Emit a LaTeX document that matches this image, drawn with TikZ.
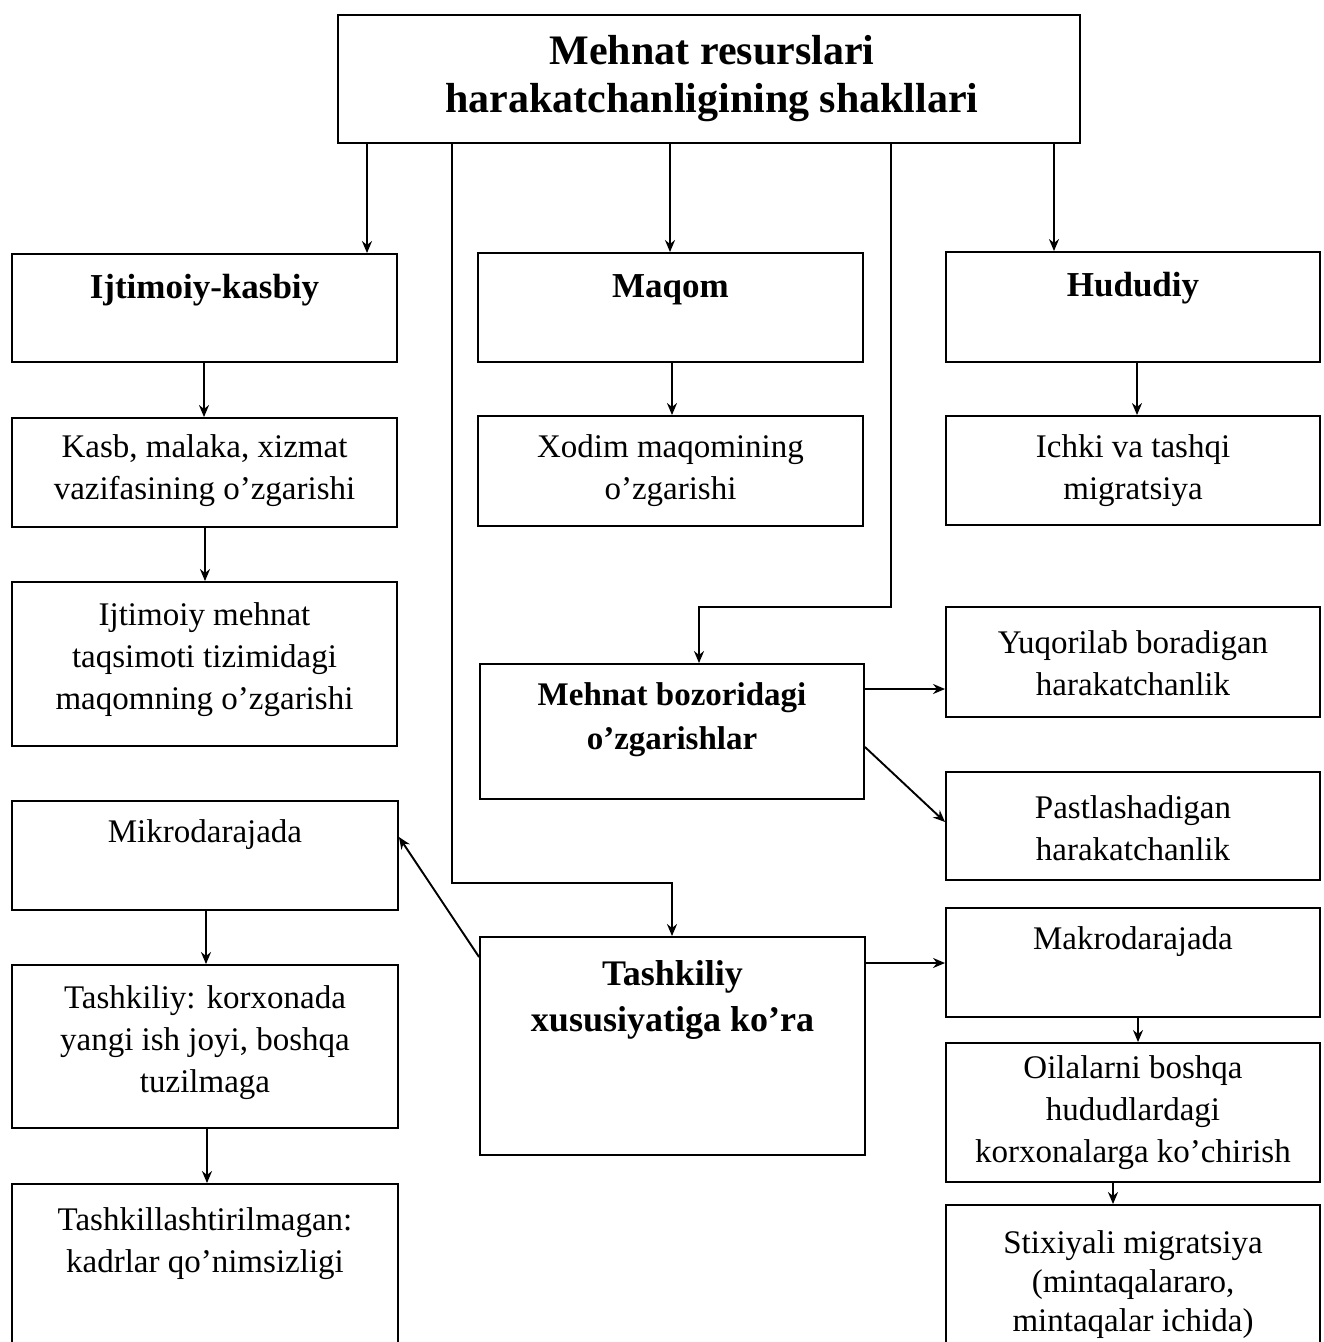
\documentclass[tikz,border=0pt]{standalone}
\usepackage{fontspec}
\setmainfont{Liberation Serif}
\usetikzlibrary{arrows.meta}
\tikzset{
  box/.style={draw, line width=1.9pt, inner sep=0pt},
  nt/.style={align=center, font=\fontsize{33}{42}\selectfont, inner sep=0pt},
  bt/.style={align=center, font=\fontsize{35}{45}\selectfont\bfseries, inner sep=0pt},
  arr/.style={line width=1.9pt, -{Stealth[length=12pt,width=10pt]}},
}
\begin{document}
\begin{tikzpicture}[x=1pt,y=-1pt]
\useasboundingbox (0,0) rectangle (1324,1342);
\clip (0,0) rectangle (1324,1342);
\fill[white] (0,0) rectangle (1324,1342);

% boxes
\node[box, minimum width=742pt, minimum height=128pt] (top) at (709,79) {};
\node[box, minimum width=385pt, minimum height=108pt] (ijt) at (204.5,308) {};
\node[box, minimum width=385pt, minimum height=109pt] (kasb) at (204.5,472.5) {};
\node[box, minimum width=385pt, minimum height=164pt] (ijtm) at (204.5,664) {};
\node[box, minimum width=386pt, minimum height=109pt] (mikro) at (205,855.5) {};
\node[box, minimum width=386pt, minimum height=163pt] (tka) at (205,1046.5) {};
\node[box, minimum width=386pt, minimum height=186pt] (tkb) at (205,1277) {};
\node[box, minimum width=385pt, minimum height=109pt] (maqom) at (670.5,307.5) {};
\node[box, minimum width=385pt, minimum height=110pt] (xodim) at (670.5,471) {};
\node[box, minimum width=384pt, minimum height=135pt] (mb) at (672,731.5) {};
\node[box, minimum width=385pt, minimum height=218pt] (tx) at (672.5,1046) {};
\node[box, minimum width=374pt, minimum height=110pt] (hud) at (1133,307) {};
\node[box, minimum width=374pt, minimum height=109pt] (ichki) at (1133,470.5) {};
\node[box, minimum width=374pt, minimum height=110pt] (yuq) at (1133,662) {};
\node[box, minimum width=374pt, minimum height=108pt] (past) at (1133,826) {};
\node[box, minimum width=374pt, minimum height=109pt] (makro) at (1133,962.5) {};
\node[box, minimum width=374pt, minimum height=139pt] (oila) at (1133,1112.5) {};
\node[box, minimum width=374pt, minimum height=165pt] (stix) at (1133,1287.5) {};

% texts
\node[bt, font=\fontsize{42}{48}\selectfont\bfseries] (topt) at (712,79) {Mehnat resurslari\\harakatchanligining shakllari};
\node[bt] (ijtt) at (204.5,290) {Ijtimoiy-kasbiy};
\node[bt] (maqomt) at (670.5,290) {Maqom};
\node[bt] (hudt) at (1133,288) {Hududiy};
\node[nt] (kasbt) at (204.5,471) {Kasb, malaka, xizmat\\vazifasining o’zgarishi};
\node[nt] (xodimt) at (670.5,471) {Xodim maqomining\\o’zgarishi};
\node[nt] (ichkit) at (1133,471) {Ichki va tashqi\\migratsiya};
\node[nt] (ijtmt) at (204.5,660) {Ijtimoiy mehnat\\taqsimoti tizimidagi\\maqomning o’zgarishi};
\node[nt] (yuqt) at (1133,663) {Yuqorilab boradigan\\harakatchanlik};
\node[bt, font=\fontsize{33}{44}\selectfont\bfseries] (mbt) at (672,720) {Mehnat bozoridagi\\o’zgarishlar};
\node[nt] (pastt) at (1133,828) {Pastlashadigan\\harakatchanlik};
\node[nt] (mikrot) at (205,835) {Mikrodarajada};
\node[nt] (makrot) at (1133,942) {Makrodarajada};
\node[nt] (tkat) at (205,1043) {Tashkiliy: korxonada\\yangi ish joyi, boshqa\\tuzilmaga};
\node[bt, font=\fontsize{36}{46}\selectfont\bfseries] (txt) at (672.5,1000) {Tashkiliy\\xususiyatiga ko’ra};
\node[nt] (oilat) at (1133,1113) {Oilalarni boshqa\\hududlardagi\\korxonalarga ko’chirish};
\node[nt] (tkbt) at (205,1244) {Tashkillashtirilmagan:\\kadrlar qo’nimsizligi};
\node[nt, font=\fontsize{33}{39}\selectfont] (stixt) at (1133,1285) {Stixiyali migratsiya\\(mintaqalararo,\\mintaqalar ichida)};

% connectors from top box
\draw[arr] (top.south -| 367,0) -- (ijt.north -| 367,0);
\draw[arr] (top.south -| 670,0) -- (maqom.north -| 670,0);
\draw[arr] (top.south -| 1054,0) -- (hud.north -| 1054,0);
\draw[arr] (top.south -| 452,0) -- (452,883) -- (672,883) -- (tx.north -| 672,0);
\draw[arr] (top.south -| 891,0) -- (891,607) -- (699,607) -- (mb.north -| 699,0);

% column arrows
\draw[arr] (ijt.south -| 204,0) -- (kasb.north -| 204,0);
\draw[arr] (kasb.south -| 205,0) -- (ijtm.north -| 205,0);
\draw[arr] (mikro.south -| 206,0) -- (tka.north -| 206,0);
\draw[arr] (tka.south -| 207,0) -- (tkb.north -| 207,0);
\draw[arr] (maqom.south -| 672,0) -- (xodim.north -| 672,0);
\draw[arr] (hud.south -| 1137,0) -- (ichki.north -| 1137,0);
\draw[arr] (makro.south -| 1138,0) -- (oila.north -| 1138,0);
\draw[arr] (oila.south -| 1113,0) -- (stix.north -| 1113,0);

% side arrows
\draw[arr] (mb.east |- 0,689) -- (yuq.west |- 0,689);
\draw[arr] (mb.east |- 0,747) -- (past.west |- 0,822);
\draw[arr] (tx.east |- 0,963) -- (makro.west |- 0,963);
\draw[arr] (tx.west |- 0,957) -- (mikro.east |- 0,837);
\end{tikzpicture}
\end{document}
